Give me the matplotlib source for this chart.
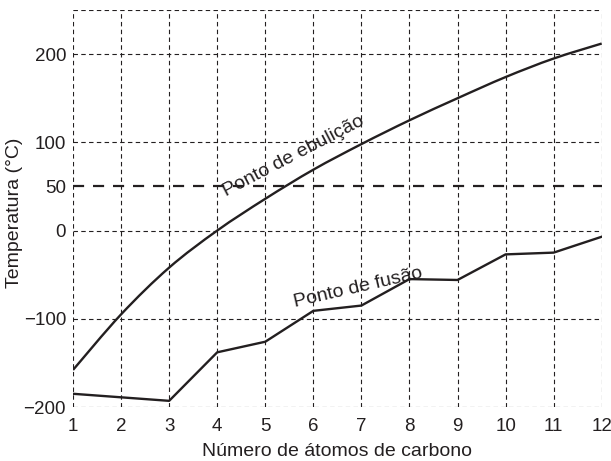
import matplotlib
matplotlib.use("Agg")
import matplotlib.pyplot as plt
from matplotlib.path import Path
from matplotlib.patches import PathPatch

carbonos = list(range(1, 13))
ebulicao = [-158, -95, -42, 0, 36, 69, 98, 125, 150, 174, 195, 212]
fusao = [-185, -189, -193, -138, -126, -91, -85, -55, -56, -27, -25, -7]
y_ticks = [200, 100, 50, 0, -100, -200]
y_labels = ["200", "100", "50", "0", "\u2212100", "\u2212200"]
grid_y = [250, 200, 100, 0, -100, -200]

plt.rcParams["font.family"] = ["Liberation Sans", "DejaVu Sans"]
ink = "#231f20"


def smooth_path(xs, ys):
    # Catmull-Rom segments drawn as cubic Bezier curves through the data points
    pts = list(zip(xs, ys))
    ext = [pts[0]] + pts + [pts[-1]]
    verts = [pts[0]]
    codes = [Path.MOVETO]
    for i in range(1, len(ext) - 2):
        p0, p1, p2, p3 = ext[i - 1], ext[i], ext[i + 1], ext[i + 2]
        c1 = (p1[0] + (p2[0] - p0[0]) / 6, p1[1] + (p2[1] - p0[1]) / 6)
        c2 = (p2[0] - (p3[0] - p1[0]) / 6, p2[1] - (p3[1] - p1[1]) / 6)
        verts += [c1, c2, p2]
        codes += [Path.CURVE4] * 3
    return Path(verts, codes)


fig = plt.figure(figsize=(6.11, 4.61), dpi=100)
ax = fig.add_axes([0.1195, 0.1171, 0.8653, 0.8612])
ax.set_xlim(1, 12)
ax.set_ylim(-200, 250)

for s in ax.spines.values():
    s.set_visible(False)

grid_kw = dict(color=ink, lw=0.8, dashes=(4, 3), zorder=1)
for x in carbonos:
    ax.axvline(x, **grid_kw)
for y in grid_y:
    ax.axhline(y, **grid_kw)
ax.axhline(50, color=ink, lw=1.6, dashes=(5, 4), zorder=1)

ax.add_patch(PathPatch(smooth_path(carbonos, ebulicao), facecolor="none",
                       edgecolor=ink, lw=1.7, zorder=3))
ax.plot(carbonos, fusao, color=ink, lw=1.7, zorder=3)

ax.set_xticks(carbonos)
ax.set_yticks(y_ticks)
ax.set_yticklabels(y_labels)
ax.tick_params(length=0, labelsize=13.5, colors=ink)
ax.tick_params(axis="y", pad=5)
ax.tick_params(axis="x", pad=8)

ax.set_xlabel("Número de átomos de carbono", fontsize=14, color=ink, labelpad=6)
ax.set_ylabel("Temperatura (°C)", fontsize=14, color=ink)
ax.yaxis.set_label_coords(-0.095, 0.49)

ax.text(5.58, 84, "Ponto de ebulição", rotation=27.5, fontsize=14, color=ink,
        ha="center", va="center", rotation_mode="anchor", zorder=4)
ax.text(6.93, -65, "Ponto de fusão", rotation=13, fontsize=14, color=ink,
        ha="center", va="center", rotation_mode="anchor", zorder=4)

fig.savefig("out.png", dpi=100)
